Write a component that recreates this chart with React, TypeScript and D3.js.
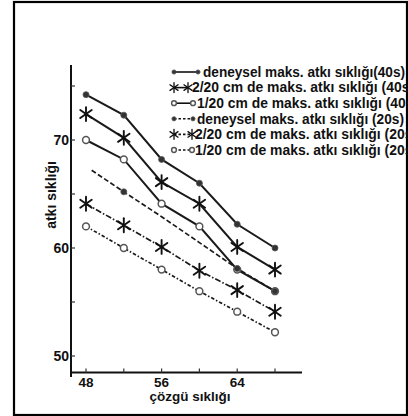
import React from "react";
import * as d3 from "d3";

const W = 408;
const H = 416;

// x values (çözgü sıklığı)
const xValues = [48, 52, 56, 60, 64, 68];
const s4X = [48.6, 52, 56, 60, 64, 68];
const xTicks = [48, 52, 56, 60, 64, 68];
const xTickLabels = [48, 56, 64];
const yTicks = [50, 55, 60, 65, 70, 75];
const yTickLabels = [50, 60, 70];

// series values (atkı sıklığı)
const deneysel40 = [74.2, 72.3, 68.2, 66.0, 62.2, 60.0];
const iki20cm40 = [72.4, 70.2, 66.1, 64.1, 60.1, 58.0];
const bir20cm40 = [70.0, 68.2, 64.1, 62.0, 58.0, 56.0];
const deneysel20 = [67.2, 65.2, 62.9, 60.5, 58.1, 56.0];
const deneysel20Marked = [false, true, false, false, true, true];
const iki20cm20 = [64.1, 62.1, 60.1, 57.9, 56.1, 54.1];
const bir20cm20 = [62.0, 60.0, 58.0, 56.0, 54.1, 52.2];

const legendLabels = [
  "deneysel maks. atkı sıklığı(40s)",
  "2/20 cm de maks. atkı sıklığı (40s)",
  "1/20 cm de maks. atkı sıklığı (40s)",
  "deneysel maks. atkı sıklığı (20s)",
  "2/20 cm de maks. atkı sıklığı (20s)",
  "1/20 cm de maks. atkı sıklığı (20s)",
];

const xTitle = "çözgü sıklığı";
const yTitle = "atkı sıklığı";

type Marker = "dot" | "star" | "circle";

const x = d3.scaleLinear().domain([48, 68]).range([86, 275]);
const y = d3.scaleLinear().domain([50, 70]).range([356, 140]);

const seriesDefs: {
  xs: number[];
  ys: number[];
  marker: Marker;
  dash: string | null;
  marked?: boolean[];
  width: number;
}[] = [
  { xs: xValues, ys: deneysel40, marker: "dot", dash: null, width: 2 },
  { xs: xValues, ys: iki20cm40, marker: "star", dash: null, width: 2 },
  { xs: xValues, ys: bir20cm40, marker: "circle", dash: null, width: 2 },
  { xs: s4X, ys: deneysel20, marker: "dot", dash: "5,2.5", marked: deneysel20Marked, width: 1.7 },
  { xs: xValues, ys: iki20cm20, marker: "star", dash: "6,2,1.5,2", width: 1.7 },
  { xs: xValues, ys: bir20cm20, marker: "circle", dash: "3.5,2,1.5,2", width: 1.7 },
];

const legendLayout = [
  { x1: 198, tx: 203, tl: 202 },
  { x1: 188, tx: 192, tl: 222 },
  { x1: 193, tx: 197, tl: 221 },
  { x1: 193, tx: 197, tl: 207 },
  { x1: 192, tx: 195, tl: 222 },
  { x1: 192, tx: 195, tl: 222 },
];

function MarkerShape({ type, cx, cy, size }: { type: Marker; cx: number; cy: number; size: number }) {
  if (type === "dot") {
    return <circle cx={cx} cy={cy} r={3 * size} fill="#333" stroke="#555" strokeWidth={0.8} />;
  }
  if (type === "circle") {
    return <circle cx={cx} cy={cy} r={3.4 * size} fill="#fff" stroke="#555" strokeWidth={1.5} />;
  }
  const r = 7 * size;
  const a = (35 * Math.PI) / 180;
  const dx = r * Math.cos(a);
  const dy = r * Math.sin(a);
  return (
    <g stroke="#111" strokeWidth={1.9 * Math.max(size, 0.7)} strokeLinecap="round">
      <line x1={cx} y1={cy - r} x2={cx} y2={cy + r} />
      <line x1={cx - dx} y1={cy - dy} x2={cx + dx} y2={cy + dy} />
      <line x1={cx - dx} y1={cy + dy} x2={cx + dx} y2={cy - dy} />
    </g>
  );
}

export default function App() {
  const line = d3
    .line<[number, number]>()
    .x((d) => x(d[0]))
    .y((d) => y(d[1]));

  const axisFont = "'Liberation Sans', Arial, sans-serif";
  const legendFont = "'Liberation Sans Narrow', 'Arial Narrow', 'Liberation Sans', sans-serif";
  const xAxisY = 372.5;
  const yAxisX = 71;
  const legendY0 = 72;
  const legendDy = 15.6;

  return (
    <svg
      width={W}
      height={H}
      style={{ position: "absolute", left: 0, top: 0, background: "#fff" }}
      xmlns="http://www.w3.org/2000/svg"
    >
      <rect x={0} y={0} width={W} height={H} fill="#fff" />
      <rect x={14} y={2} width={393} height={413} fill="none" stroke="#000" strokeWidth={2.2} />

      {/* axes */}
      <line x1={yAxisX} y1={65} x2={yAxisX} y2={377} stroke="#111" strokeWidth={2} />
      <line x1={70} y1={xAxisY} x2={302} y2={xAxisY} stroke="#111" strokeWidth={2} />
      {xTicks.map((t) => (
        <line key={"xt" + t} x1={x(t)} x2={x(t)} y1={xAxisY} y2={xAxisY - 4} stroke="#333" strokeWidth={1.2} />
      ))}
      {yTicks.map((t) => (
        <line key={"yt" + t} x1={yAxisX} x2={yAxisX + 4} y1={y(t)} y2={y(t)} stroke="#333" strokeWidth={1.2} />
      ))}
      {xTickLabels.map((t) => (
        <text
          key={"xl" + t}
          x={x(t)}
          y={386.5}
          textAnchor="middle"
          fontFamily={axisFont}
          fontWeight="bold"
          fontSize={13.5}
          fill="#111"
        >
          {t}
        </text>
      ))}
      {yTickLabels.map((t) => (
        <text
          key={"yl" + t}
          x={69}
          y={y(t) + 5}
          textAnchor="end"
          fontFamily={axisFont}
          fontWeight="bold"
          fontSize={14}
          fill="#111"
        >
          {t}
        </text>
      ))}
      <text x={190} y={400.5} textAnchor="middle" fontFamily={axisFont} fontWeight="bold" fontSize={13.5} fill="#111">
        {xTitle}
      </text>
      <text
        transform="translate(56,195) rotate(-90)"
        textAnchor="middle"
        fontFamily={axisFont}
        fontWeight="bold"
        fontSize={14}
        fill="#111"
      >
        {yTitle}
      </text>

      {/* series lines */}
      {seriesDefs.map((s, i) => (
        <path
          key={"l" + i}
          d={line(s.xs.map((v, j) => [v, s.ys[j]] as [number, number])) || ""}
          fill="none"
          stroke="#1a1a1a"
          strokeWidth={s.width}
          strokeDasharray={s.dash || undefined}
        />
      ))}
      {/* markers */}
      {seriesDefs.map((s, i) =>
        s.xs.map((v, j) =>
          s.marked && !s.marked[j] ? null : (
            <MarkerShape key={"m" + i + "-" + j} type={s.marker} cx={x(v)} cy={y(s.ys[j])} size={1} />
          )
        )
      )}

      {/* legend */}
      {seriesDefs.map((s, i) => {
        const cy = legendY0 + i * legendDy;
        const L = legendLayout[i];
        return (
          <g key={"lg" + i}>
            <line
              x1={174}
              x2={L.x1}
              y1={cy}
              y2={cy}
              stroke="#111"
              strokeWidth={1.6}
              strokeDasharray={s.dash ? "2.5,2" : undefined}
            />
            <MarkerShape type={s.marker} cx={174} cy={cy} size={0.7} />
            <MarkerShape type={s.marker} cx={L.x1} cy={cy} size={0.7} />
            <text
              x={L.tx}
              y={cy + 4.8}
              fontFamily={legendFont}
              fontWeight="bold"
              fontSize={14}
              textLength={L.tl}
              lengthAdjust="spacingAndGlyphs"
              fill="#111"
            >
              {legendLabels[i]}
            </text>
          </g>
        );
      })}
    </svg>
  );
}
